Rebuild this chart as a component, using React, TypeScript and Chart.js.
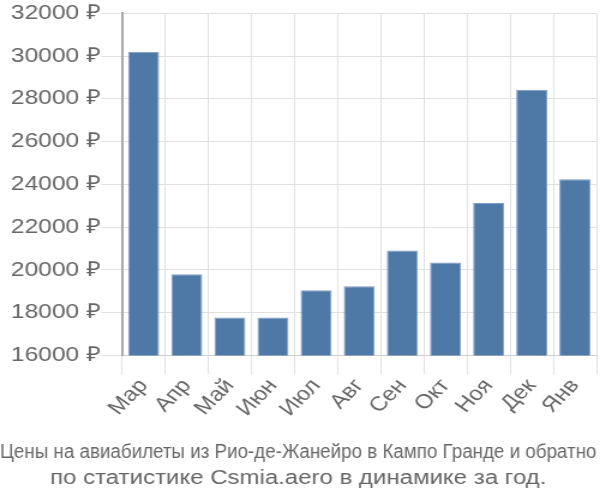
import React, { useEffect, useRef } from "react";
import { Chart, registerables } from "chart.js";

Chart.register(...registerables);

const categories = ["Мар", "Апр", "Май", "Июн", "Июл", "Авг", "Сен", "Окт", "Ноя", "Дек", "Янв"];
const prices = [30200, 19800, 17770, 17770, 19050, 19240, 20910, 20350, 23130, 28420, 24240];
const yMin = 16000;
const yMax = 32000;
const yStep = 2000;
const currency = " ₽";
const titleLines = [
  "Цены на авиабилеты из Рио-де-Жанейро в Кампо Гранде и обратно",
  "по статистике Csmia.aero в динамике за год.",
];

export default function App() {
  const ref = useRef<HTMLCanvasElement>(null);
  useEffect(() => {
    if (!ref.current) return;
    const font = "'Liberation Sans', Arial, sans-serif";
    const chart = new Chart(ref.current, {
      type: "bar",
      data: {
        labels: categories,
        datasets: [
          {
            data: prices,
            backgroundColor: "#4e79a7",
            borderColor: "#7f9dc2",
            borderWidth: 1,
          },
        ],
      },
      options: {
        animation: false,
        responsive: false,
        maintainAspectRatio: false,
        devicePixelRatio: 1,
        layout: { padding: { left: 0, right: 3, top: 4, bottom: 0 } },
        plugins: {
          legend: { display: false },
          tooltip: { enabled: false },
          title: {
            display: true,
            position: "bottom",
            text: titleLines,
            color: "#666",
            font: { family: font, size: 20, weight: "normal", lineHeight: 1.3 },
            padding: { top: 18, bottom: 9 },
          },
        },
        scales: {
          x: {
            grid: { color: "#e0e0e0", tickLength: 19, drawOnChartArea: true },
            border: { color: "#cfcfcf" },
            ticks: {
              color: "#666",
              font: { family: font, size: 20 },
              maxRotation: 50,
              minRotation: 50,
              padding: 0,
            },
          },
          y: {
            min: yMin,
            max: yMax,
            afterFit: (scale: any) => {
              scale.width += 8;
            },
            grid: { color: "#e0e0e0", tickLength: 17 },
            border: { color: "#a8a8a8", width: 2 },
            ticks: {
              stepSize: yStep,
              color: "#666",
              font: { family: font, size: 20.5 },
              padding: 1,
              callback: (v: any) => v + currency,
            },
          },
        },
      },
    });
    return () => chart.destroy();
  }, []);
  return (
    <div style={{ position: "fixed", left: 0, top: 0, width: 600, height: 500 }}>
      <canvas
        ref={ref}
        width={500}
        height={500}
        style={{ width: "600px", height: "500px", display: "block" }}
      />
    </div>
  );
}
